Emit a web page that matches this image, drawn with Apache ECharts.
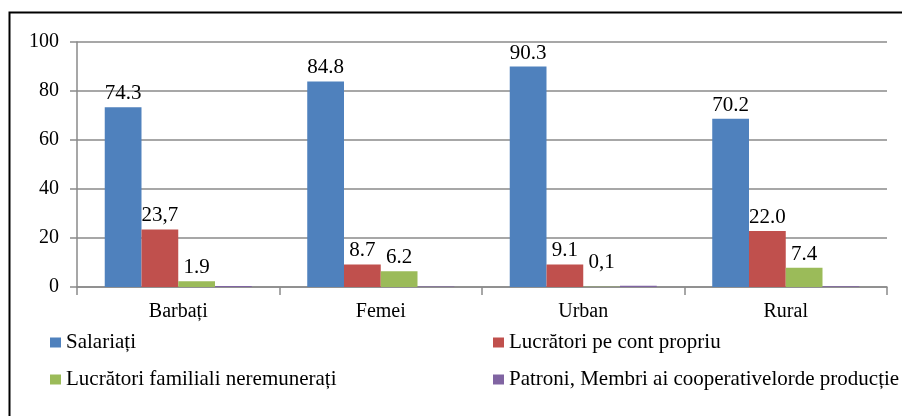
<!DOCTYPE html>
<html>
<head>
<meta charset="utf-8">
<script src="https://cdn.jsdelivr.net/npm/echarts@6/dist/echarts.min.js"></script>
<style>
  html, body { margin: 0; padding: 0; background: #fff; }
  #main { width: 902px; height: 416px; }
</style>
</head>
<body>
<div id="main"></div>
<script>
// categorii si serii
const categories = ['Barbați', 'Femei', 'Urban', 'Rural'];
const seriesNames = [
  'Salariați',
  'Lucrători pe cont propriu',
  'Lucrători familiali neremunerați',
  'Patroni, Membri ai cooperativelorde producție'
];
// inaltimile barelor
const salariati = [73.4, 83.9, 90.0, 68.7];
const contPropriu = [23.5, 9.2, 9.2, 22.9];
const familiali = [2.3, 6.4, 0.1, 7.9];
const patroni = [0.4, 0.2, 0.5, 0.3];
// etichetele scrise deasupra barelor
const salariatiLabels = ['74.3', '84.8', '90.3', '70.2'];
const contPropriuLabels = ['23,7', '8.7', '9.1', '22.0'];
const familialiLabels = ['1.9', '6.2', '0,1', '7.4'];
const yTicks = [0, 20, 40, 60, 80, 100];

const font = '"Liberation Serif", "Times New Roman", serif';
const colors = ['#4F81BD', '#C0504D', '#9BBB59', '#8064A2'];
const gridColor = '#8a8a8a';

function labelled(values, labels, extra) {
  return values.map((v, i) => {
    const item = { value: v, label: { formatter: labels[i] } };
    if (extra && extra[i]) Object.assign(item.label, extra[i]);
    return item;
  });
}

const barLabel = {
  show: true,
  position: 'top',
  distance: 3,
  color: '#000',
  fontFamily: font,
  fontSize: 21
};

const legendText = { fontFamily: font, fontSize: 21, color: '#000', lineHeight: 21 };

let myChart = echarts.init(document.getElementById('main'));
myChart.setOption({
  animation: false,
  color: colors,
  textStyle: { fontFamily: font },
  grid: { left: 77, right: 15, top: 42, bottom: 129 },
  legend: [
    {
      data: [seriesNames[0], seriesNames[2]],
      orient: 'vertical',
      left: 50, top: 332, padding: 0,
      itemWidth: 11, itemHeight: 10, itemGap: 16,
      icon: 'rect',
      textStyle: legendText
    },
    {
      data: [seriesNames[1], seriesNames[3]],
      orient: 'vertical',
      left: 493, top: 332, padding: 0,
      itemWidth: 11, itemHeight: 10, itemGap: 16,
      icon: 'rect',
      textStyle: legendText
    }
  ],
  xAxis: {
    type: 'category',
    data: categories,
    axisLine: { lineStyle: { color: gridColor, width: 1.5 } },
    axisTick: { show: true, length: 8, lineStyle: { color: gridColor, width: 1.5 } },
    axisLabel: { color: '#000', fontFamily: font, fontSize: 20, margin: 15 }
  },
  yAxis: {
    type: 'value',
    min: yTicks[0],
    max: yTicks[yTicks.length - 1],
    interval: 20,
    axisLine: { show: true, lineStyle: { color: gridColor, width: 1.5 } },
    axisTick: { show: true, length: 7, lineStyle: { color: gridColor, width: 1.5 } },
    splitLine: { lineStyle: { color: gridColor, width: 1.5 } },
    axisLabel: { color: '#000', fontFamily: font, fontSize: 20, margin: 18 }
  },
  series: [
    {
      name: seriesNames[0], type: 'bar', barGap: 0, barCategoryGap: '27.4%',
      label: barLabel,
      data: labelled(salariati, salariatiLabels)
    },
    {
      name: seriesNames[1], type: 'bar', barGap: 0, barCategoryGap: '27.4%',
      label: barLabel,
      data: labelled(contPropriu, contPropriuLabels)
    },
    {
      name: seriesNames[2], type: 'bar', barGap: 0, barCategoryGap: '27.4%',
      label: barLabel,
      data: labelled(familiali, familialiLabels, [null, null, { distance: 14 }, null])
    },
    {
      name: seriesNames[3], type: 'bar', barGap: 0, barCategoryGap: '27.4%',
      data: patroni
    }
  ],
  graphic: [
    {
      type: 'rect',
      shape: { x: 9.5, y: 12.5, width: 1000, height: 1000 },
      style: { fill: 'none', stroke: '#000', lineWidth: 2 },
      silent: true
    }
  ]
});
window.onresize = function () {
  myChart.resize();
};
</script>
</body>
</html>
